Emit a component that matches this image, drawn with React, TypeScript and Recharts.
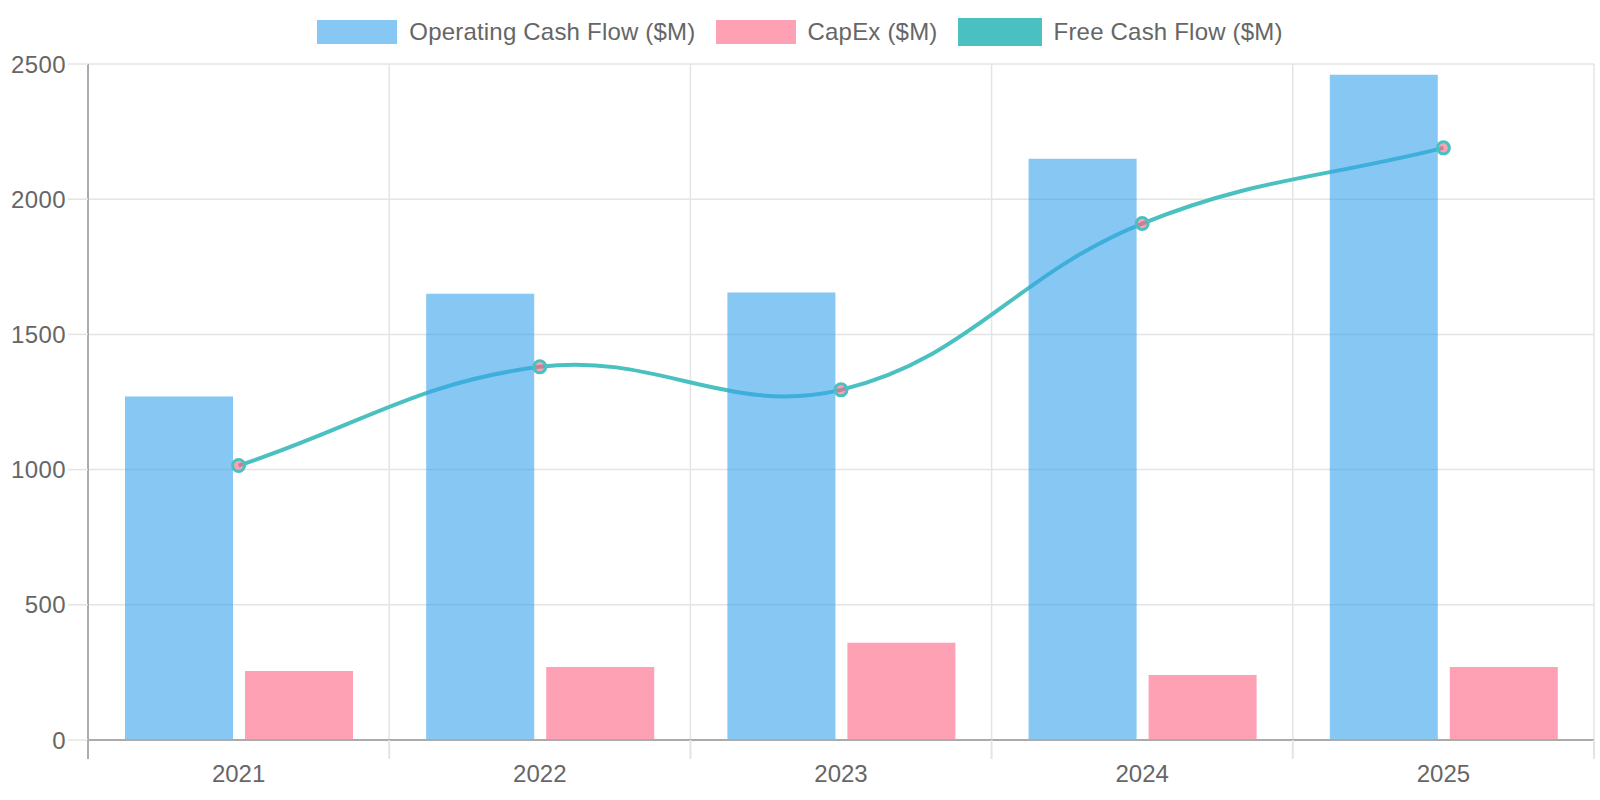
import React from 'react';
import { ComposedChart, Bar, Line, XAxis, YAxis, CartesianGrid } from 'recharts';

const years = ['2021', '2022', '2023', '2024', '2025'];
const operatingCashFlow = [1270, 1650, 1655, 2150, 2460];
const capex = [255, 270, 360, 240, 270];
const freeCashFlow = [1015, 1380, 1295, 1910, 2190];
const yTicks = [0, 500, 1000, 1500, 2000, 2500];

const data = years.map((year, i) => ({
  year,
  ocf: operatingCashFlow[i],
  capex: capex[i],
  fcf: freeCashFlow[i],
}));

const W = 1600;
const H = 800;
const margin = { top: 64, right: 6, left: 0, bottom: 0 };
const Y_AXIS_W = 88;
const X_AXIS_H = 60;
const plotWidth = W - margin.left - margin.right - Y_AXIS_W;
const step = plotWidth / years.length;

const FONT = '"Liberation Sans", Arial, Helvetica, sans-serif';
const TEXT = '#666666';
const GRID = '#e4e4e4';
const AXIS = '#ababab';
const BLUE = 'rgba(54, 162, 235, 0.6)';
const PINK = 'rgba(255, 99, 132, 0.6)';
const TEAL = '#4BC0C0';

// chart.js style spline (tension 0.4)
const TENSION = 0.4;
const splineCurve = (context: any) => {
  let pts: number[][] = [];
  return {
    areaStart() {},
    areaEnd() {},
    lineStart() {
      pts = [];
    },
    point(x: number, y: number) {
      pts.push([+x, +y]);
    },
    lineEnd() {
      if (!pts.length) return;
      const cps = pts.map((p, i) => {
        const prev = pts[i - 1] || p;
        const next = pts[i + 1] || p;
        const d01 = Math.hypot(p[0] - prev[0], p[1] - prev[1]);
        const d12 = Math.hypot(next[0] - p[0], next[1] - p[1]);
        let s01 = d01 / (d01 + d12);
        let s12 = d12 / (d01 + d12);
        if (isNaN(s01)) s01 = 0;
        if (isNaN(s12)) s12 = 0;
        const fa = TENSION * s01;
        const fb = TENSION * s12;
        return {
          prev: [p[0] - fa * (next[0] - prev[0]), p[1] - fa * (next[1] - prev[1])],
          next: [p[0] + fb * (next[0] - prev[0]), p[1] + fb * (next[1] - prev[1])],
        };
      });
      context.moveTo(pts[0][0], pts[0][1]);
      for (let i = 1; i < pts.length; i++) {
        context.bezierCurveTo(
          cps[i - 1].next[0], cps[i - 1].next[1],
          cps[i].prev[0], cps[i].prev[1],
          pts[i][0], pts[i][1]
        );
      }
    },
  };
};

const XTick = (props: any) => {
  const { x, y, payload, index } = props;
  const left = x - step / 2;
  const right = x + step / 2;
  return (
    <g>
      <line x1={left} x2={left} y1={y - 19} y2={y} stroke={index === 0 ? AXIS : GRID} strokeWidth={2} />
      {index === years.length - 1 && (
        <line x1={right} x2={right} y1={y - 19} y2={y} stroke={GRID} strokeWidth={2} />
      )}
      <text x={x} y={y + 23} textAnchor="middle" fill={TEXT} fontSize={24} fontFamily={FONT}>
        {payload.value}
      </text>
    </g>
  );
};

const legendItems = [
  { label: 'Operating Cash Flow ($M)', color: BLUE, border: 'none' },
  { label: 'CapEx ($M)', color: PINK, border: 'none' },
  { label: 'Free Cash Flow ($M)', color: TEAL, border: `2px solid ${TEAL}` },
];

const App: React.FC = () => {
  return (
    <div style={{ position: 'absolute', left: 0, top: 0, width: W, height: H, background: '#fff' }}>
      <div
        style={{
          position: 'absolute',
          top: 16,
          left: 0,
          width: W,
          height: 32,
          display: 'flex',
          justifyContent: 'center',
          alignItems: 'center',
          fontFamily: FONT,
          fontSize: 24,
          letterSpacing: 0.2,
          color: TEXT,
        }}
      >
        {legendItems.map((item, i) => (
          <div key={item.label} style={{ display: 'flex', alignItems: 'center', marginRight: i < legendItems.length - 1 ? 20 : 0 }}>
            <div style={{ width: 80, height: 24, background: item.color, border: item.border, marginRight: 12 }} />
            <span>{item.label}</span>
          </div>
        ))}
      </div>
      <ComposedChart width={W} height={H} data={data} margin={margin} barGap={12} barCategoryGap="10%">
        <CartesianGrid
          stroke={GRID}
          strokeWidth={1.5}
          verticalCoordinatesGenerator={({ offset }: any) =>
            Array.from({ length: years.length + 1 }, (_, i) => offset.left + (i * offset.width) / years.length)
          }
        />
        <XAxis
          dataKey="year"
          height={X_AXIS_H}
          tickSize={19}
          tickMargin={0}
          tickLine={false}
          axisLine={{ stroke: AXIS, strokeWidth: 2 }}
          tick={<XTick />}
          interval={0}
        />
        <YAxis
          width={Y_AXIS_W}
          domain={[0, 2500]}
          ticks={yTicks}
          tickSize={20}
          tickMargin={2}
          tickLine={{ stroke: GRID, strokeWidth: 1.5 }}
          axisLine={{ stroke: AXIS, strokeWidth: 2 }}
          tick={{ fill: TEXT, fontSize: 24, fontFamily: FONT, letterSpacing: 0.4 }}
        />
        <Line
          dataKey="fcf"
          type={splineCurve as any}
          stroke={TEAL}
          strokeWidth={4}
          dot={false}
          activeDot={false}
          isAnimationActive={false}
          zIndex={100}
        />
        <Bar dataKey="ocf" fill={BLUE} barSize={108} isAnimationActive={false} zIndex={200} />
        <Bar dataKey="capex" fill={PINK} barSize={108} isAnimationActive={false} zIndex={200} />
        <Line
          dataKey="fcf"
          type={splineCurve as any}
          stroke="none"
          dot={{ r: 6, fill: PINK, stroke: TEAL, strokeWidth: 3 }}
          activeDot={false}
          isAnimationActive={false}
          zIndex={300}
        />
      </ComposedChart>
    </div>
  );
};

export default App;
